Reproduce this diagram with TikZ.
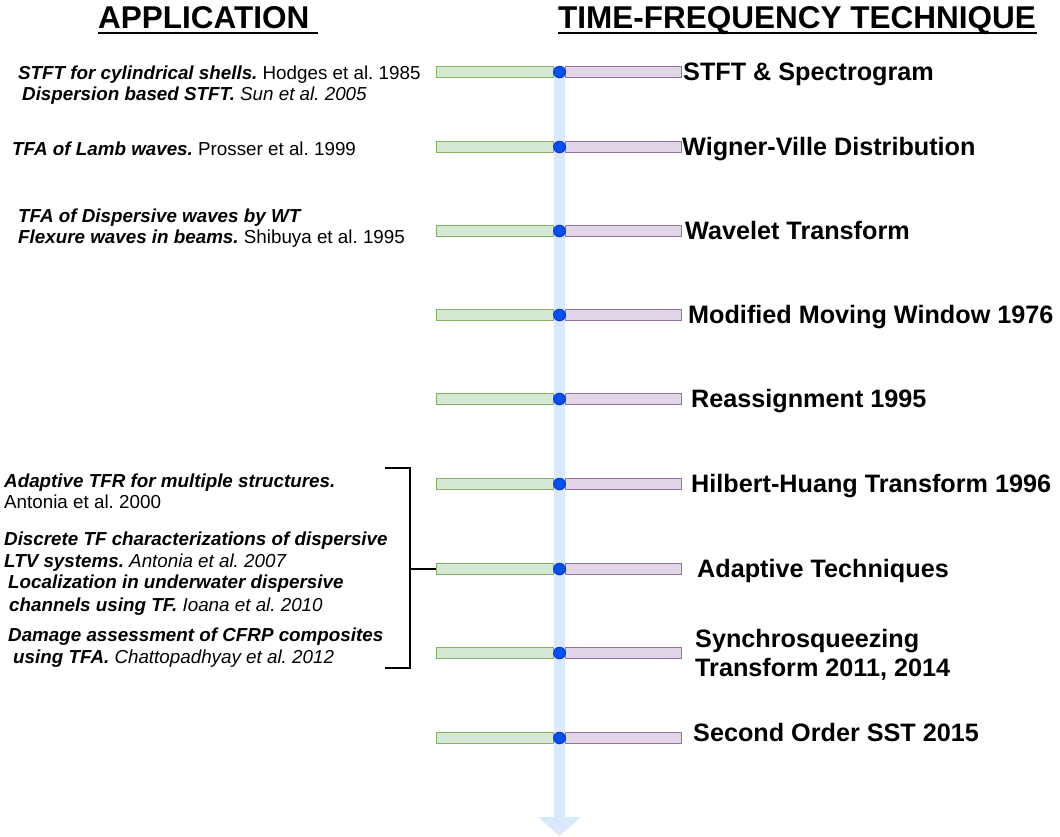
\documentclass[tikz,border=0pt]{standalone}
\usepackage{fontspec}
\setmainfont{Liberation Sans}
\frenchspacing
\definecolor{gfill}{HTML}{D5E8D4}
\definecolor{gline}{HTML}{82B366}
\definecolor{pfill}{HTML}{E1D5E7}
\definecolor{pline}{HTML}{9673A6}
\definecolor{axisblue}{HTML}{DAE8FC}
\definecolor{dotblue}{HTML}{0050EF}
\definecolor{dotline}{HTML}{001DBC}
\begin{document}
\begin{tikzpicture}[x=1pt,y=-1pt,
  head/.style={font=\fontsize{31.5}{36}\selectfont\bfseries, inner sep=0, anchor=base west},
  tech/.style={font=\fontsize{25.2}{29}\selectfont\bfseries, inner sep=0, anchor=base west},
  app/.style={font=\fontsize{18.8}{22}\selectfont, inner sep=0, anchor=base west},
  appbar/.style={draw=gline, fill=gfill, line width=1, minimum width=117, minimum height=10.5, inner sep=0, anchor=east},
  techbar/.style={draw=pline, fill=pfill, line width=1, minimum width=116, minimum height=10.5, inner sep=0, anchor=west},
  dot/.style={circle, draw=dotline, fill=dotblue, line width=0.5, minimum size=12, inner sep=0},
  brk/.style={line width=1.6, black}
]
\useasboundingbox (0,0) rectangle (1060,836);

% time axis with arrow head
\fill[axisblue] (554,67) -- (565,67) -- (565,817) -- (581,817) -- (559.5,836)
  -- (538,817) -- (554,817) -- cycle;

% headings
\node[head] (happ) at (98,28) {APPLICATION};
\node[head] (htf) at (558,28) {TIME-FREQUENCY TECHNIQUE};
\draw[line width=2] (98,33) -- (318,33);
\draw[line width=2] (558,33) -- (1037,33);

% bars and markers on the axis
\foreach \y [count=\i] in {72,147,231,315,399,484,569,653,738} {
  \node[appbar] (g\i) at (554,\y) {};
  \node[techbar] (p\i) at (565,\y) {};
  \node[dot] (d\i) at (559.5,\y) {};
}

% techniques
\node[tech] (t1) at (683,80) {STFT \& Spectrogram};
\node[tech] (t2) at (682,155) {Wigner-Ville Distribution};
\node[tech] (t3) at (685,239) {Wavelet Transform};
\node[tech] (t4) at (688,323) {Modified Moving Window 1976};
\node[tech] (t5) at (691,407) {Reassignment 1995};
\node[tech] (t6) at (691,492) {Hilbert-Huang Transform 1996};
\node[tech] (t7) at (697,577) {Adaptive Techniques};
\node[tech] (t8a) at (695,647) {Synchrosqueezing};
\node[tech] (t8b) at (695,676) {Transform 2011, 2014};
\node[tech] (t9) at (693,741) {Second Order SST 2015};

% applications
\node[app] (a1a) at (18,79) {\textbf{\textit{STFT for cylindrical shells.}} Hodges et al. 1985};
\node[app] (a1b) at (22,100) {\textbf{\textit{Dispersion based STFT.}} \textit{Sun et al. 2005}};
\node[app] (a2) at (12,155) {\textbf{\textit{TFA of Lamb waves.}} Prosser et al. 1999};
\node[app] (a3a) at (18,222) {\textbf{\textit{TFA of Dispersive waves by WT}}};
\node[app] (a3b) at (18,243) {\textbf{\textit{Flexure waves in beams.}} Shibuya et al. 1995};
\node[app] (b1) at (4,487) {\textbf{\textit{Adaptive TFR for multiple structures.}}};
\node[app] (b2) at (4,508) {Antonia et al. 2000};
\node[app] (b3) at (4,545) {\textbf{\textit{Discrete TF characterizations of dispersive}}};
\node[app] (b4) at (4,567) {\textbf{\textit{LTV systems.}} \textit{Antonia et al. 2007}};
\node[app] (b5) at (8,588) {\textbf{\textit{Localization in underwater dispersive}}};
\node[app] (b6) at (9,611) {\textbf{\textit{channels using TF.}} \textit{Ioana et al. 2010}};
\node[app] (b7) at (8,641) {\textbf{\textit{Damage assessment of CFRP composites}}};
\node[app] (b8) at (13,663) {\textbf{\textit{using TFA.}} \textit{Chattopadhyay et al. 2012}};

% bracket grouping the adaptive-technique applications
\coordinate (bt) at (410,468);
\coordinate (bb) at (410,668);
\coordinate (bm) at (410,569);
\draw[brk] (385,468) -- (bt) -- (bb) -- (385,668);
\draw[brk] (bm) -- (g7.west);
\end{tikzpicture}
\end{document}
